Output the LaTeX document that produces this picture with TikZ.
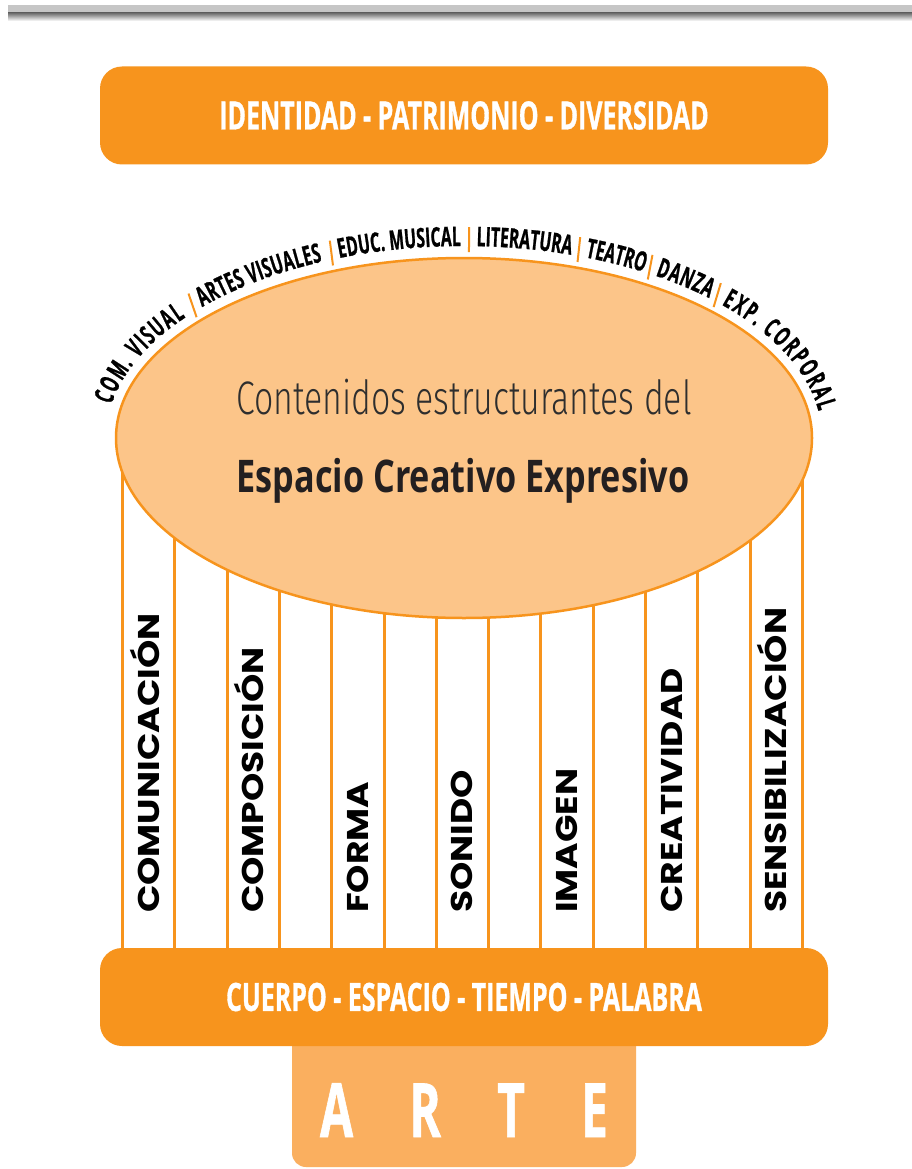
\documentclass[tikz,border=0pt]{standalone}
\usepackage{fontspec}
\usetikzlibrary{decorations.text,calc,shapes.geometric}
\newfontfamily\barfont[FakeStretch=0.64, BoldFeatures={FakeBold=0.8}]{Open Sans}
\newfontfamily\arcfont[FakeStretch=0.58, BoldFeatures={FakeBold=0.8}]{Open Sans}
\newfontfamily\boldmid[FakeStretch=0.76]{Open Sans}
\IfFontExistsTF{Fira Sans Light}{\newfontfamily\lightmid[FakeStretch=0.72]{Fira Sans Light}}{\newfontfamily\lightmid[FakeStretch=0.70]{Open Sans}}
\newfontfamily\labfont[FakeStretch=1.2]{Poppins}
\definecolor{orangeD}{HTML}{F7941D}
\definecolor{orangeL}{HTML}{FCC589}
\definecolor{orangeM}{HTML}{FAAF5F}
\definecolor{txtgray}{HTML}{2E2E2E}
\definecolor{txtdark}{HTML}{231F20}
\definecolor{barlight}{HTML}{C6C6C6}
\definecolor{bardark}{HTML}{6E6E6E}
\newcommand\myarcsty{\arcfont\bfseries\fontsize{27}{27}\selectfont\color{black}}
\tikzset{
  barbox/.style={fill=orangeD, rounded corners=22pt, inner sep=0pt, minimum width=728pt, minimum height=98pt,
    text=white, font=\barfont\bfseries\fontsize{39}{39}\selectfont},
  column/.style={draw=orangeD, line width=3pt},
  sep/.style={draw=orangeD, line width=2pt},
  collabel/.style={rotate=90, anchor=base west, inner sep=0pt, text=black,
    font=\labfont\bfseries\fontsize{30}{30}\selectfont},
  arcword/.style={decorate, decoration={text along path, text align=fit to path, text={|\myarcsty|#1}}}
}
\begin{document}
\begin{tikzpicture}[x=1pt,y=1pt]
\useasboundingbox (0,0) rectangle (912,-1169);
\fill[white] (0,0) rectangle (912,-1169);
% top gray bar
\fill[barlight] (8,-5) rectangle (912,-13);
\shade[top color=bardark, bottom color=white] (8,-13) rectangle (912,-21);
% top box
\node[barbox] (top) at (464,-115.5) {IDENTIDAD - PATRIMONIO - DIVERSIDAD};
% columns
\foreach \i in {0,...,13}{
  \coordinate (ltop\i) at ({122.5+52.3*\i},-440);
  \coordinate (lbot\i) at ({122.5+52.3*\i},-952);
  \draw[column] (ltop\i) -- (lbot\i);
}
% ellipse
\coordinate (C) at (464,-438);
\node[ellipse, draw=orangeD, fill=orangeL, line width=2.5pt, inner sep=0pt,
      minimum width=696pt, minimum height=360pt] (ell) at (C) {};
\node[anchor=base, inner sep=0pt, text=txtgray, font=\lightmid\fontsize{47}{47}\selectfont] (l1) at (464,-414) {Contenidos estructurantes del};
\node[anchor=base, inner sep=0pt, text=txtdark, font=\boldmid\bfseries\fontsize{45}{45}\selectfont] (l2) at (463,-492) {Espacio Creativo Expresivo};
% arc words
\path[arcword={COM. VISUAL}] ($(C)+(170:358 and 192)$) arc[start angle=170, end angle=141, x radius=358, y radius=192];
\path[arcword={ARTES VISUALES}] ($(C)+(137:358 and 192)$) arc[start angle=137, end angle=113.3, x radius=358, y radius=192];
\path[arcword={EDUC. MUSICAL}] ($(C)+(110.4:358 and 192)$) arc[start angle=110.4, end angle=90.5, x radius=358, y radius=192];
\path[arcword={LITERATURA}] ($(C)+(88:358 and 192)$) arc[start angle=88, end angle=72.6, x radius=358, y radius=192];
\path[arcword={TEATRO}] ($(C)+(70.2:358 and 192)$) arc[start angle=70.2, end angle=60.2, x radius=358, y radius=192];
\path[arcword={DANZA}] ($(C)+(57.7:358 and 192)$) arc[start angle=57.7, end angle=46.8, x radius=358, y radius=192];
\path[arcword={EXP. CORPORAL}] ($(C)+(44:358 and 192)$) arc[start angle=44, end angle=8, x radius=358, y radius=192];
\foreach \t [count=\n] in {138.8,111.6,89.2,71.4,58.9,45.4}{
  \pgfmathsetmacro\bx{464+358*cos(\t)}
  \pgfmathsetmacro\by{-438+192*sin(\t)}
  \pgfmathsetmacro\ba{90+0.6*(atan2(358*sin(\t),192*cos(\t))-90)}
  \coordinate (bar\n) at (\bx,\by);
  \draw[sep] ($(bar\n)+(\ba+180:6)$) -- ($(bar\n)+(\ba:19)$);
}
% ARTE box
\node[fill=orangeM, rounded corners=14pt, minimum width=344pt, minimum height=142pt, inner sep=0pt] (arte) at (464,-1096) {};
% bottom bar
\node[barbox] (bottom) at (464,-997) {CUERPO - ESPACIO - TIEMPO - PALABRA};
\node[anchor=base, inner sep=0pt, text=white, font=\barfont\bfseries\fontsize{75}{75}\selectfont] (artetxt) at (464,-1137) {\makebox[288pt][s]{A\hfill R\hfill T\hfill E}};
% column labels
\foreach \k/\lab in {0/COMUNICACIÓN,2/COMPOSICIÓN,4/FORMA,6/SONIDO,8/IMAGEN,10/CREATIVIDAD,12/SENSIBILIZACIÓN}{
  \node[collabel] (lab\k) at ({122.5+52.3*\k+26.15+10.5},-913) {\lab};
}
\end{tikzpicture}
\end{document}
